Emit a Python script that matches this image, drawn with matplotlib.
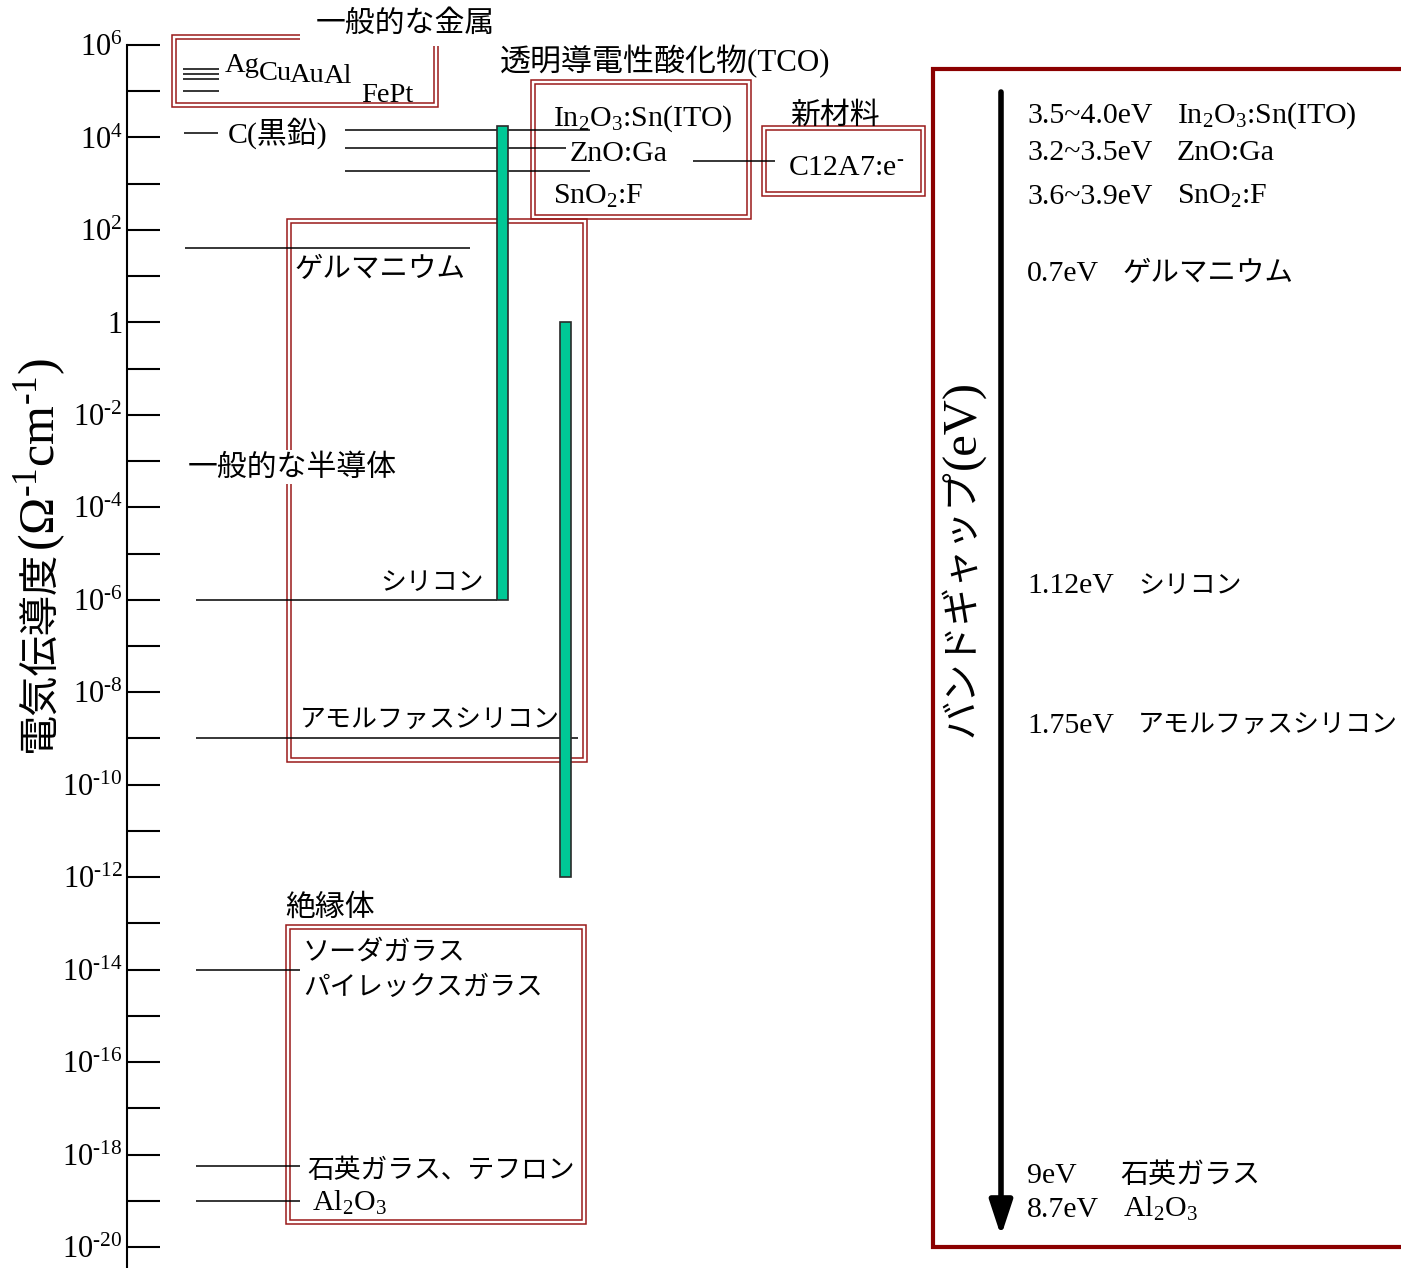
import numpy as np
import matplotlib
matplotlib.use('Agg')
import matplotlib.pyplot as plt
from matplotlib.patches import Rectangle
from matplotlib.ticker import FixedLocator, FixedFormatter, NullFormatter

plt.rcParams['mathtext.fontset'] = 'custom'
plt.rcParams['mathtext.rm'] = 'Liberation Serif'
plt.rcParams['mathtext.it'] = 'Liberation Serif:italic'
plt.rcParams['mathtext.default'] = 'regular'

SERIF = 'Liberation Serif'
JP = 'Noto Sans CJK JP'

# ---------------- data ----------------
tick_exponents = list(range(-20, 7, 2))
minor_exponents = list(range(-19, 6, 2))
tick_labels = ['1' if e == 0 else r'$10^{\text{%d}}$' % e for e in tick_exponents]

metal_line_log = [5.48, 5.37, 5.26, 5.0]          # Ag, Cu, Au, Al / Fe, Pt
metal_names = ['Ag', 'Cu', 'Au', 'Al', 'FePt']
graphite_log = 4.10
tco_names = ['In$_2$O$_3$:Sn(ITO)', 'ZnO:Ga', 'SnO$_2$:F']
tco_log = [4.16, 3.77, 3.27]
new_material = 'C12A7:e$^{\\text{-}}$'
new_material_log = 3.49
semi_names = ['ゲルマニウム', 'シリコン', 'アモルファスシリコン']
semi_log = [1.6, -6.0, -9.0]
insulator_names = ['ソーダガラス', 'パイレックスガラス', '石英ガラス、テフロン', 'Al$_2$O$_3$']
insulator_log = [-14.0, -18.25, -19.0]
range_low_log = [-6.0, -12.0]
range_high_log = [4.25, 0.0]

gap_values = ['3.5~4.0eV', '3.2~3.5eV', '3.6~3.9eV', '0.7eV', '1.12eV', '1.75eV', '9eV', '8.7eV']
gap_materials = ['In$_2$O$_3$:Sn(ITO)', 'ZnO:Ga', 'SnO$_2$:F', 'ゲルマニウム', 'シリコン',
                 'アモルファスシリコン', '石英ガラス', 'Al$_2$O$_3$']

# ---------------- layout helpers ----------------
W, H = 1401, 1268
PX_TOP, PX_DEC = 45.0, 46.23


def Y(px):
    """vertical pixel position (from top) -> conductivity value on the log axis"""
    return 10.0 ** (6 - (px - PX_TOP) / PX_DEC)


def V(e):
    return 10.0 ** np.asarray(e, dtype=float)


fig = plt.figure(figsize=(W / 100, H / 100), dpi=100)
ax = fig.add_axes([0, 0, 1, 1])
ax.set_xlim(0, W)
ax.set_yscale('log')
ax.set_ylim(Y(H), Y(0))
ax.patch.set_visible(False)
for s in ['top', 'right', 'bottom']:
    ax.spines[s].set_visible(False)
ax.spines['left'].set_position(('data', 127))
ax.spines['left'].set_bounds(Y(H), 1e6)
ax.spines['left'].set_linewidth(1.5)
ax.xaxis.set_visible(False)
ax.yaxis.set_major_locator(FixedLocator(V(tick_exponents)))
ax.yaxis.set_major_formatter(FixedFormatter(tick_labels))
ax.yaxis.set_minor_locator(FixedLocator(V(minor_exponents)))
ax.yaxis.set_minor_formatter(NullFormatter())
ax.tick_params(axis='y', which='both', direction='in', length=23.8, width=1.5,
               pad=3, labelsize=22, labelfontfamily=SERIF)

fig.canvas.draw()
rend = fig.canvas.get_renderer()

LW = 1.1
BOX_C = '#9a1a1a'
TS = 21.5   # serif text size
TT = 21.5   # japanese title size
JSIZE = {'ゲルマニウム': 20.5, 'シリコン': 18.6, 'アモルファスシリコン': 18.7,
         'ソーダガラス': 19.5, 'パイレックスガラス': 19.2, '石英ガラス、テフロン': 19.3,
         '石英ガラス': 20.2}


def dbox(x0, x1, y0, y1, gap=4):
    for d in (0, gap):
        ax.add_patch(Rectangle((x0 + d, Y(y1 - d)), (x1 - x0) - 2 * d, Y(y0 + d) - Y(y1 - d),
                               fill=False, edgecolor=BOX_C, lw=1.1, zorder=2))


def wmask(x0, x1, y0, y1):
    ax.add_patch(Rectangle((x0, Y(y1)), x1 - x0, Y(y0) - Y(y1), facecolor='white',
                           edgecolor='none', zorder=3))


def jtext(x, cy, s, size=None, **kw):
    return ax.text(x, Y(cy), s, family=JP, fontsize=size or JSIZE.get(s, 19.5),
                   va='center', **kw)


# ---------------- metals ----------------
dbox(172, 438, 35, 107)
wmask(300, 500, 0, 46)
ax.text(316, Y(23), '一般的な金属', family=JP, fontsize=TT, va='center', zorder=4)
ax.hlines(V(metal_line_log), 183, 219, color='black', lw=LW, zorder=4)
xcur = 225
for name, base in zip(metal_names[:4], [72, 80, 82, 83]):
    t = ax.text(xcur, Y(base), name, family=SERIF, fontsize=20.5, va='baseline', zorder=4)
    bb = t.get_window_extent(rend)
    xcur = bb.x1 - 1.5
ax.text(361, Y(102), metal_names[4], family=SERIF, fontsize=20.5, va='baseline', zorder=4)

# graphite
ax.hlines(V(graphite_log), 184, 218, color='black', lw=LW)
ax.text(228, Y(133), 'C(黒鉛)', family=[SERIF, JP], fontsize=TS, va='center')

# ---------------- TCO ----------------
dbox(531, 751, 80, 219)
ax.text(500, Y(62), '透明導電性酸化物(TCO)', family=[SERIF, JP], fontsize=22.3, va='center')
ax.hlines(V(tco_log), 345, [590, 566, 590], color='black', lw=LW, zorder=4)
for name, x, base in zip(tco_names, [553, 570, 553], [126, 161, 204]):
    ax.text(x, Y(base), name, family=SERIF, fontsize=TS, va='baseline', zorder=4)

# new material
dbox(762, 925, 126, 196)
ax.text(790, Y(115), '新材料', family=JP, fontsize=TT, va='center')
ax.hlines(V(new_material_log), 693, 775, color='black', lw=LW)
ax.text(788, Y(175), new_material, family=SERIF, fontsize=TS, va='baseline')

# ---------------- semiconductors ----------------
dbox(287, 587, 219, 762)
ax.text(188, Y(467), '一般的な半導体', family=JP, fontsize=TT, va='center', zorder=4,
        bbox=dict(facecolor='white', edgecolor='none', pad=1))
ax.hlines(V(semi_log), [185, 196, 196], [470, 497, 578], color='black', lw=LW, zorder=4)
for name, x, cy in zip(semi_names, [295, 380, 300], [269, 582, 720]):
    jtext(x, cy, name, zorder=4)

# range bars
ax.bar([502.5, 565.5], V(range_high_log) - V(range_low_log),
       bottom=V(range_low_log), width=11, color='#00c896',
       edgecolor='#2a2a2a', linewidth=1.2, zorder=5)

# ---------------- insulators ----------------
ax.text(285, Y(907), '絶縁体', family=JP, fontsize=TT, va='center')
dbox(286, 586, 925, 1224)
ax.hlines(V(insulator_log), 196, 300, color='black', lw=LW, zorder=4)
jtext(303, 952, insulator_names[0])
jtext(303, 987, insulator_names[1])
jtext(307, 1170, insulator_names[2])
ax.text(312, Y(1211), insulator_names[3], family=SERIF, fontsize=TS, va='baseline')

# ---------------- band gap panel ----------------
ax.plot([W, 933, 933, W], [Y(69), Y(69), Y(1247), Y(1247)], color='#8b0000', lw=3,
        solid_joinstyle='miter', zorder=2)
ax.annotate('', xy=(1001, Y(1236)), xytext=(1001, Y(92)),
            arrowprops=dict(arrowstyle='-|>,head_length=1.0,head_width=0.33', lw=4,
                            color='black', mutation_scale=21, shrinkA=0, shrinkB=0))
gap_base = [123, 160, 204, 281, 593, 733, 1183, 1217]
gap_mat_x = [1177, 1177, 1177, 1123, 1138, 1138, 1120, 1123]
for v, m, b, mx in zip(gap_values, gap_materials, gap_base, gap_mat_x):
    ax.text(1027, Y(b), v, family=SERIF, fontsize=TS, va='baseline')
    if m.isascii():
        ax.text(mx, Y(b), m, family=SERIF, fontsize=TS, va='baseline')
    else:
        ax.text(mx, Y(b), m, family=JP, fontsize=JSIZE.get(m, 19.5), va='baseline')


# rotated labels (two fonts joined)
def rot_label(xbase, ybottom, jp, latin, jsize, lsize, lx=None):
    t1 = ax.text(xbase, Y(ybottom), jp, family=JP, fontsize=jsize, rotation=90,
                 rotation_mode='anchor', ha='left', va='baseline')
    bb = t1.get_window_extent(rend)
    ytop_px = H - bb.y1
    ax.text(lx or xbase, Y(ytop_px), latin, family=SERIF, fontsize=lsize, rotation=90,
            rotation_mode='anchor', ha='left', va='baseline')


rot_label(52, 752, '電気伝導度', r'($\Omega^{\text{-}1}$cm$^{\text{-}1}$)', 29, 36, lx=54)
rot_label(972, 737, 'バンドギャップ', '(eV)', 27.5, 35, lx=975)

fig.savefig('out.png', dpi=100)
